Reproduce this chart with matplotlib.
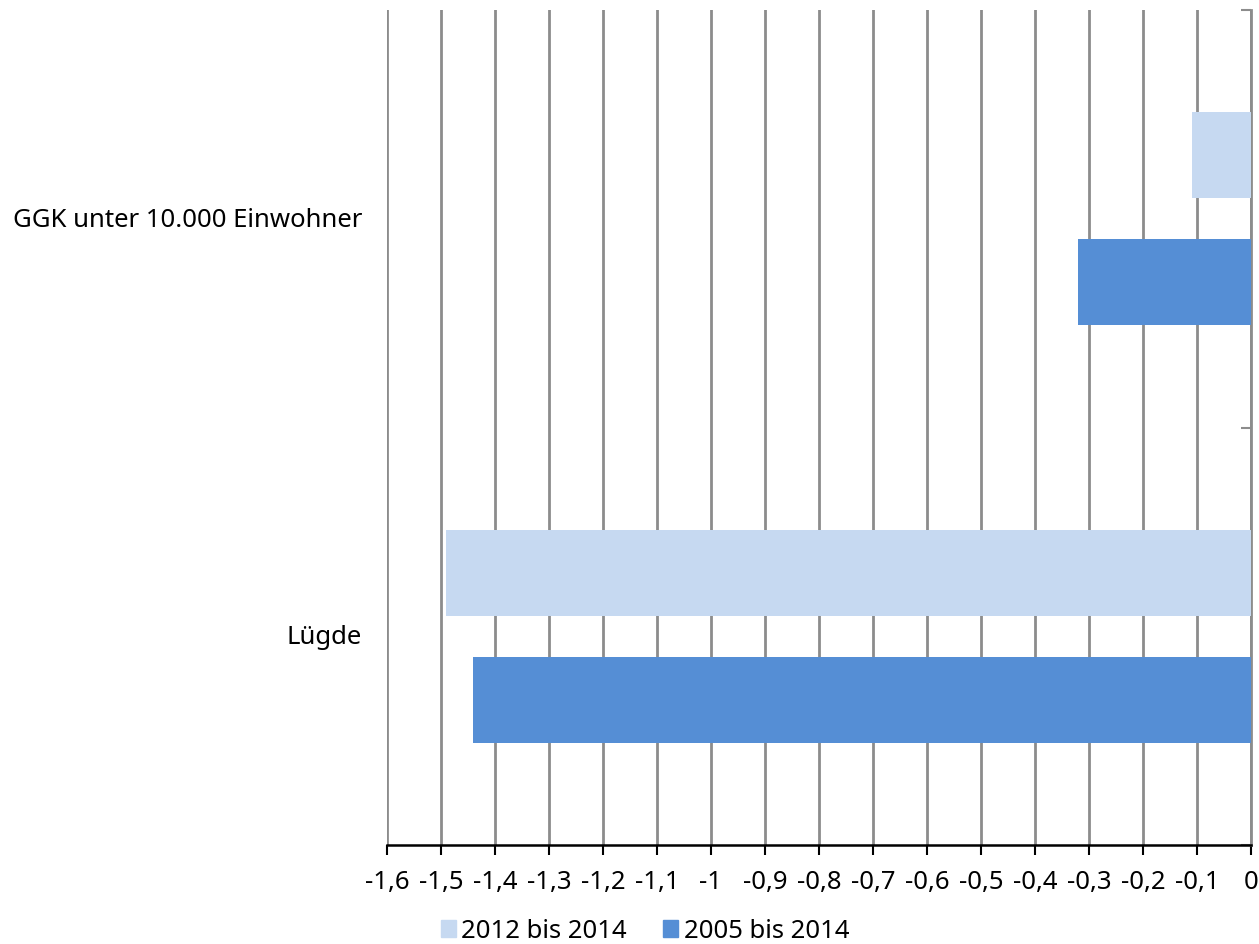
import numpy as np
import matplotlib.pyplot as plt
from matplotlib.patches import Patch

plt.rcParams['font.family'] = ['Noto Sans', 'DejaVu Sans']

categories = ['Lügde', 'GGK unter 10.000 Einwohner']
series_names = ['2012 bis 2014', '2005 bis 2014']
vals_2012 = [-1.49, -0.11]
vals_2005 = [-1.44, -0.32]
colors = ['#C6D9F1', '#558ED5']
xticks = np.round(np.arange(-1.6, 0.001, 0.1), 1)


def fmt(v):
    if abs(v) < 1e-9:
        return '0'
    s = ('%.1f' % v).rstrip('0').rstrip('.')
    return s.replace('.', ',')


def run():
    fig = plt.figure(figsize=(12.59, 9.44), dpi=100)
    ax = fig.add_axes([387 / 1259, 1 - 845 / 944, 864 / 1259, 835 / 944])

    y = np.arange(len(categories))
    h = 0.206
    off = 0.152
    ax.barh(y + off, vals_2012, height=h, color=colors[0], zorder=3)
    ax.barh(y - off, vals_2005, height=h, color=colors[1], zorder=3)

    ax.set_xlim(-1.6, 0)
    ax.set_ylim(-0.5, 1.5)

    ax.set_xticks(xticks)
    ax.set_xticklabels([fmt(v) for v in xticks], fontsize=18.5)
    ax.tick_params(axis='x', length=7, width=1.5, color='black', pad=11)
    ax.grid(axis='x', color='#8C8C8C', linewidth=2, zorder=0)

    # vertical axis sits at 0, ticks between categories
    ax.yaxis.set_ticks_position('right')
    ax.set_yticks([-0.5, 0.5, 1.5])
    ax.set_yticklabels([])
    ax.tick_params(axis='y', direction='in', length=7, width=1.5, color='#8C8C8C')

    for s in ['top', 'left']:
        ax.spines[s].set_visible(False)
    ax.spines['right'].set_color('#8C8C8C')
    ax.spines['right'].set_linewidth(2)
    ax.spines['bottom'].set_color('black')
    ax.spines['bottom'].set_linewidth(1.8)
    ax.spines['bottom'].set_zorder(4)

    for yi, name in zip(y, categories):
        ax.text(-0.029, yi - 0.003, name, transform=ax.get_yaxis_transform(),
                ha='right', va='center', fontsize=18.5)

    handles = [Patch(color=c) for c in colors]
    fig.legend(handles, series_names, loc='center', bbox_to_anchor=(645 / 1259, 1 - 931 / 944),
               ncol=2, frameon=False, fontsize=18.5, handlelength=0.6, handleheight=0.6,
               handletextpad=0.2, columnspacing=1.4, borderaxespad=0, borderpad=0)

    plt.savefig('out.png', dpi=100)
    plt.close()


if __name__ == '__main__':
    run()
